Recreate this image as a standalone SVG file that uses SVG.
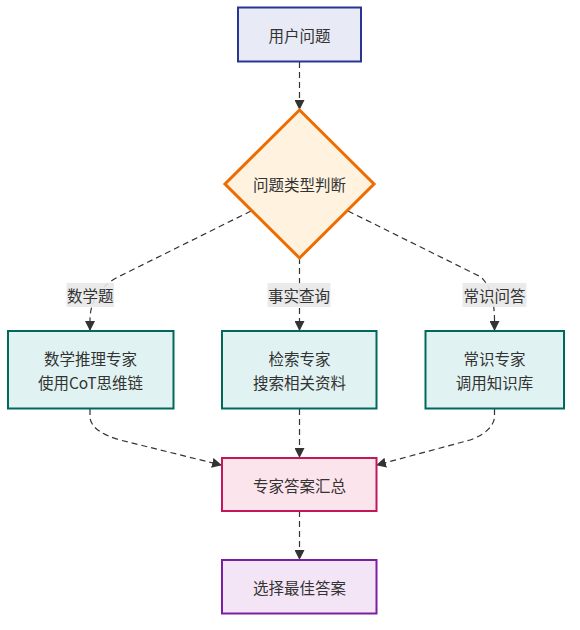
<svg xmlns="http://www.w3.org/2000/svg" width="580" height="630" viewBox="0 0 580 630">
<style>
text{font-family:"Noto Sans CJK SC","Noto Sans",sans-serif;font-size:15.5px;fill:#333;text-anchor:middle;dominant-baseline:central}
.e{fill:none;stroke:#333;stroke-width:1.2;stroke-dasharray:6 4}
.lb{fill:#e8e8e8;opacity:0.9}
</style>
<defs>
<marker id="ah" viewBox="0 0 10 10" refX="9" refY="5" markerWidth="10" markerHeight="10" markerUnits="userSpaceOnUse" orient="auto">
<path d="M0,0 L10,5 L0,10 z" fill="#333"/>
</marker>
</defs>
<rect width="580" height="630" fill="#fff"/>
<g id="edges">
<path class="e" d="M299.5,62 L299.5,109" marker-end="url(#ah)"/>
<path class="e" d="M251,211 L118,277 Q90,292 90,320 L90,330" marker-end="url(#ah)"/>
<path class="e" d="M299.5,258 L299.5,330" marker-end="url(#ah)"/>
<path class="e" d="M348,211 L481,277 Q494.5,290 494.5,320 L494.5,330" marker-end="url(#ah)"/>
<path class="e" d="M90,409 L90,418 Q92,432 120,440 L221,465" marker-end="url(#ah)"/>
<path class="e" d="M299.5,409 L299.5,457" marker-end="url(#ah)"/>
<path class="e" d="M494.5,409 L494.5,418 Q492,432 470,440 L377,465" marker-end="url(#ah)"/>
<path class="e" d="M299.5,511 L299.5,559" marker-end="url(#ah)"/>
</g>
<g id="labels">
<rect class="lb" x="66.5" y="283" width="47.5" height="24"/>
<text x="90.3" y="295">数学题</text>
<rect class="lb" x="267.5" y="283" width="63" height="24"/>
<text x="299" y="295">事实查询</text>
<rect class="lb" x="462.5" y="283" width="64" height="24"/>
<text x="494.5" y="295">常识问答</text>
</g>
<g id="user">
<rect x="238" y="7.5" width="123" height="54" fill="#e8eaf6" stroke="#283593" stroke-width="2"/>
<text x="299.5" y="34.5">用户问题</text>
</g>
<g id="judge">
<polygon points="299.5,110 374,184 299.5,258 225,184" fill="#fff3e0" stroke="#ef6c00" stroke-width="3"/>
<text x="299.5" y="184">问题类型判断</text>
</g>
<g id="math">
<rect x="8" y="331" width="165.5" height="77.5" fill="#e0f2f1" stroke="#00695c" stroke-width="2"/>
<text x="90.5" y="357.5">数学推理专家</text>
<text x="90.5" y="381.5">使用CoT思维链</text>
</g>
<g id="search">
<rect x="222" y="331" width="154.5" height="77.5" fill="#e0f2f1" stroke="#00695c" stroke-width="2"/>
<text x="299.5" y="357.5">检索专家</text>
<text x="299.5" y="381.5">搜索相关资料</text>
</g>
<g id="common">
<rect x="425.5" y="331" width="138.5" height="77.5" fill="#e0f2f1" stroke="#00695c" stroke-width="2"/>
<text x="494.5" y="357.5">常识专家</text>
<text x="494.5" y="381.5">调用知识库</text>
</g>
<g id="summary">
<rect x="222" y="458" width="154.5" height="53" fill="#fce4ec" stroke="#c2185b" stroke-width="2"/>
<text x="299.5" y="484.5">专家答案汇总</text>
</g>
<g id="best">
<rect x="222" y="560" width="154.5" height="53.5" fill="#f3e5f5" stroke="#7b1fa2" stroke-width="2"/>
<text x="299.5" y="587">选择最佳答案</text>
</g>
</svg>
